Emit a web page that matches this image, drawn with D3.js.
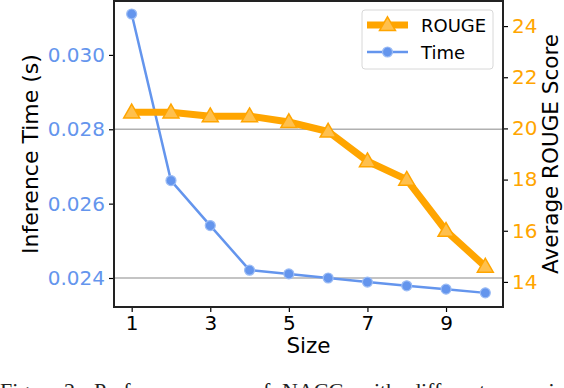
<!DOCTYPE html>
<html lang="en">
<head>
    <meta charset="UTF-8">
    <title>ROUGE vs Time</title>
    <style>
        body { margin: 0; background: #fff; }
        text { font-family: "DejaVu Sans", sans-serif; }
        text.caption { font-family: "Liberation Serif", serif; }
    </style>
</head>
<body>
    <div id="chart"></div>

    <script src="https://d3js.org/d3.v7.min.js"></script>
    <script>
        // Data
        const sizes = [1, 2, 3, 4, 5, 6, 7, 8, 9, 10];
        const timeValues = [0.0311, 0.02662, 0.02541, 0.02421, 0.02411, 0.02400, 0.02389, 0.02379, 0.02370, 0.02360];
        const rougeValues = [20.63, 20.63, 20.48, 20.48, 20.25, 19.88, 18.72, 18.0, 16.0, 14.6];
        const xTicks = [1, 3, 5, 7, 9];
        const timeTicks = [0.024, 0.026, 0.028, 0.030];
        const rougeTicks = [14, 16, 18, 20, 22, 24];
        const gridValues = [0.024, 0.028];
        const captionWords = ["Figure", "2:", "Performance", "of", "NACG", "with", "different", "sized"];

        const blue = "#6495ED";
        const orange = "#FFA500";

        const width = 564, height = 388;
        const plotL = 114, plotR = 503, plotT = 1, plotB = 307;

        const svg = d3.select("#chart")
            .append("svg")
            .attr("width", width)
            .attr("height", height);

        const x = d3.scaleLinear().domain([0.55, 10.45]).range([plotL, plotR]);
        const yTime = d3.scaleLinear().domain([0.02322, 0.03145]).range([plotB, plotT]);
        const yRouge = d3.scaleLinear().domain([13.02, 24.98]).range([plotB, plotT]);

        // grid lines
        svg.selectAll(".grid")
            .data(gridValues)
            .enter()
            .append("line")
            .attr("x1", plotL).attr("x2", plotR)
            .attr("y1", d => yTime(d)).attr("y2", d => yTime(d))
            .attr("stroke", "#b0b0b0")
            .attr("stroke-width", 1.6);

        // axes
        const xAxis = svg.append("g")
            .attr("transform", `translate(0, ${plotB})`)
            .call(d3.axisBottom(x).tickValues(xTicks).tickSize(5).tickPadding(4).tickFormat(d3.format("d")));
        xAxis.selectAll("text").attr("font-size", 20).attr("fill", "#000");

        const leftAxis = svg.append("g")
            .attr("transform", `translate(${plotL}, 0)`)
            .call(d3.axisLeft(yTime).tickValues(timeTicks).tickSize(5).tickPadding(4).tickFormat(d3.format(".3f")));
        leftAxis.selectAll("text").attr("font-size", 20).attr("fill", blue);

        const rightAxis = svg.append("g")
            .attr("transform", `translate(${plotR}, 0)`)
            .call(d3.axisRight(yRouge).tickValues(rougeTicks).tickSize(5).tickPadding(4).tickFormat(d3.format("d")));
        rightAxis.selectAll("text").attr("font-size", 20).attr("fill", orange);

        [xAxis, leftAxis, rightAxis].forEach(a => {
            a.select(".domain").remove();
            a.selectAll(".tick line").attr("stroke", "#000").attr("stroke-width", 1.2);
        });

        // frame
        svg.append("rect")
            .attr("x", plotL).attr("y", plotT)
            .attr("width", plotR - plotL).attr("height", plotB - plotT)
            .attr("fill", "none")
            .attr("stroke", "#222")
            .attr("stroke-width", 2);

        // Time line
        const timeLine = d3.line()
            .x((d, i) => x(sizes[i]))
            .y(d => yTime(d));

        svg.append("path")
            .datum(timeValues)
            .attr("d", timeLine)
            .attr("fill", "none")
            .attr("stroke", blue)
            .attr("stroke-width", 2.5);

        svg.selectAll(".tdot")
            .data(timeValues)
            .enter()
            .append("circle")
            .attr("cx", (d, i) => x(sizes[i]))
            .attr("cy", d => yTime(d))
            .attr("r", 5)
            .attr("fill", blue)
            .attr("stroke", "#9bbcf5")
            .attr("stroke-width", 1.2);

        // ROUGE line
        const rougeLine = d3.line()
            .x((d, i) => x(sizes[i]))
            .y(d => yRouge(d));

        svg.append("path")
            .datum(rougeValues)
            .attr("d", rougeLine)
            .attr("fill", "none")
            .attr("stroke", orange)
            .attr("stroke-width", 7)
            .attr("stroke-linejoin", "miter");

        const tri = d3.symbol().type(d3.symbolTriangle).size(110);
        svg.selectAll(".rtri")
            .data(rougeValues)
            .enter()
            .append("path")
            .attr("d", tri)
            .attr("transform", (d, i) => `translate(${x(sizes[i])}, ${yRouge(d) + 1})`)
            .attr("fill", "#ffc04d")
            .attr("stroke", orange)
            .attr("stroke-width", 1.5);

        // Legend
        const lg = svg.append("g");
        lg.append("rect")
            .attr("x", 362).attr("y", 10)
            .attr("width", 131).attr("height", 59)
            .attr("rx", 3)
            .attr("fill", "#fff")
            .attr("fill-opacity", 0.8)
            .attr("stroke", "#d8d8d8");

        lg.append("line").attr("x1", 367).attr("x2", 408).attr("y1", 25).attr("y2", 25)
            .attr("stroke", orange).attr("stroke-width", 7);
        lg.append("path").attr("d", tri).attr("transform", "translate(387.5, 26)")
            .attr("fill", "#ffc04d").attr("stroke", orange).attr("stroke-width", 1.5);
        lg.append("text").attr("x", 421).attr("y", 32).attr("font-size", 18).text("ROUGE");

        lg.append("line").attr("x1", 367).attr("x2", 408).attr("y1", 52).attr("y2", 52)
            .attr("stroke", blue).attr("stroke-width", 2.5);
        lg.append("circle").attr("cx", 387.5).attr("cy", 52).attr("r", 5)
            .attr("fill", blue).attr("stroke", "#9bbcf5").attr("stroke-width", 1.2);
        lg.append("text").attr("x", 421).attr("y", 59).attr("font-size", 18).text("Time");

        // Axis labels
        svg.append("text")
            .attr("transform", `translate(38, ${(plotT + plotB) / 2}) rotate(-90)`)
            .attr("text-anchor", "middle")
            .attr("font-size", 22)
            .text("Inference Time (s)");

        svg.append("text")
            .attr("transform", `translate(558, ${(plotT + plotB) / 2}) rotate(-90)`)
            .attr("text-anchor", "middle")
            .attr("font-size", 21.5)
            .text("Average ROUGE Score");

        svg.append("text")
            .attr("x", (plotL + plotR) / 2)
            .attr("y", 353)
            .attr("text-anchor", "middle")
            .attr("font-size", 21.5)
            .text("Size");

        // caption (justified in the source, so words are spread out), cut off at the bottom edge
        const wordX = [0, 64, 94, 252, 282, 358, 410, 540];
        const cap = svg.append("text")
            .attr("class", "caption")
            .attr("y", 398)
            .attr("font-size", 22)
            .attr("fill", "#222");
        cap.selectAll("tspan")
            .data(captionWords)
            .enter()
            .append("tspan")
            .attr("x", (d, i) => wordX[i])
            .text(d => d);
    </script>
</body>
</html>
